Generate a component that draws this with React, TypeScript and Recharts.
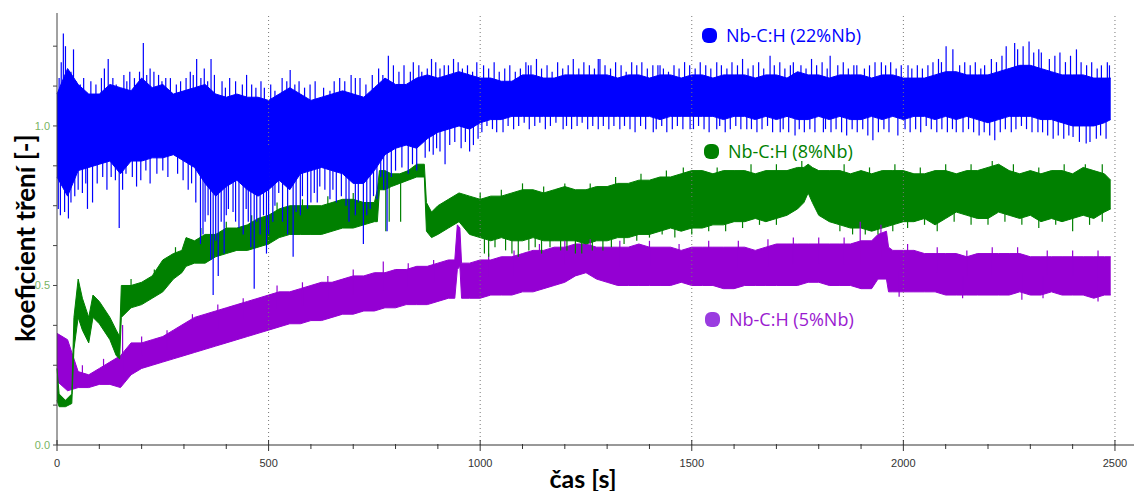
import React from 'react';
import { ComposedChart, Area, XAxis, YAxis, ReferenceLine } from 'recharts';

// ---- Nb-C:H (22%Nb): dense band (upper / lower edge) ----
const nb22T = [
  0, 25, 50, 75, 100, 125, 150, 175, 200, 225, 250, 275, 300, 325, 350, 375, 400, 425, 450, 475,
  500, 525, 550, 575, 600, 625, 650, 675, 700, 725, 750, 775, 800, 825, 850, 875, 900, 925, 950, 975,
  1000, 1025, 1050, 1075, 1100, 1125, 1150, 1175, 1200, 1225, 1250, 1275, 1300, 1325, 1350, 1375, 1400, 1425, 1450, 1475,
  1500, 1525, 1550, 1575, 1600, 1625, 1650, 1675, 1700, 1725, 1750, 1775, 1800, 1825, 1850, 1875, 1900, 1925, 1950, 1975,
  2000, 2025, 2050, 2075, 2100, 2125, 2150, 2175, 2200, 2225, 2250, 2275, 2300, 2325, 2350, 2375, 2400, 2425, 2450, 2475,
  2490,
];
const nb22Hi = [
  1.10, 1.18, 1.13, 1.10, 1.10, 1.13, 1.12, 1.11, 1.15, 1.12, 1.13, 1.10, 1.11, 1.12, 1.13, 1.10, 1.09, 1.10, 1.09, 1.09,
  1.08, 1.10, 1.12, 1.10, 1.08, 1.09, 1.10, 1.11, 1.10, 1.09, 1.12, 1.15, 1.13, 1.13, 1.15, 1.16, 1.15, 1.16, 1.17, 1.16,
  1.15, 1.15, 1.14, 1.14, 1.16, 1.16, 1.15, 1.15, 1.16, 1.16, 1.16, 1.16, 1.16, 1.15, 1.16, 1.16, 1.15, 1.16, 1.16, 1.15,
  1.16, 1.16, 1.15, 1.16, 1.16, 1.16, 1.15, 1.16, 1.16, 1.15, 1.17, 1.16, 1.16, 1.15, 1.16, 1.16, 1.16, 1.15, 1.16, 1.16,
  1.15, 1.15, 1.15, 1.16, 1.17, 1.17, 1.16, 1.16, 1.16, 1.17, 1.18, 1.19, 1.19, 1.18, 1.17, 1.16, 1.16, 1.16, 1.15, 1.15,
  1.15,
];
const nb22Lo = [
  0.84, 0.78, 0.86, 0.87, 0.88, 0.89, 0.85, 0.89, 0.89, 0.90, 0.90, 0.91, 0.89, 0.87, 0.82, 0.78, 0.81, 0.83, 0.80, 0.78,
  0.80, 0.83, 0.80, 0.85, 0.86, 0.87, 0.86, 0.85, 0.82, 0.82, 0.86, 0.91, 0.93, 0.94, 0.93, 0.96, 0.98, 0.99, 1.00, 0.99,
  1.01, 1.02, 1.02, 1.03, 1.03, 1.03, 1.03, 1.03, 1.03, 1.03, 1.03, 1.03, 1.03, 1.03, 1.03, 1.03, 1.03, 1.02, 1.03, 1.03,
  1.03, 1.03, 1.03, 1.02, 1.03, 1.03, 1.02, 1.03, 1.02, 1.03, 1.02, 1.02, 1.03, 1.02, 1.03, 1.02, 1.02, 1.03, 1.02, 1.03,
  1.02, 1.03, 1.03, 1.02, 1.03, 1.02, 1.03, 1.02, 1.01, 1.02, 1.03, 1.03, 1.03, 1.02, 1.02, 1.01, 1.00, 1.00, 1.00, 1.01,
  1.02,
];
// single noise peaks sticking out of the band: time, peak value
const nb22HairT = [
  5, 10, 15, 20, 33, 39, 45, 55, 63, 80, 92, 105, 112, 121, 132, 140, 158, 165, 172, 183, 195, 204, 212, 220, 229, 240, 248, 257, 268, 282,
  292, 305, 315, 322, 330, 340, 348, 356, 364, 372, 390, 398, 408, 422, 438, 448, 460, 470, 482, 490, 505, 515, 532, 543, 551, 562, 572, 585, 598, 610,
  630, 645, 655, 668, 680, 695, 705, 716, 730, 745, 760, 770, 783, 795, 808, 820, 835, 842, 855, 862, 875, 885, 895, 905, 915, 925, 937, 948, 958, 970,
  982, 992,
  3, 8, 18, 27, 33, 42, 50, 60, 68, 72, 84, 95, 108, 118, 128, 138, 147, 155, 163, 178, 188, 198, 210, 220, 236, 250, 262, 285, 298, 310,
  318, 328, 339, 345, 350, 357, 363, 369, 375, 381, 388, 395, 400, 405, 416, 422, 430, 440, 447, 452, 458, 466, 472, 480, 488, 495, 500, 510, 515, 524,
  533, 545, 558, 565, 575, 580, 592, 600, 608, 615, 621, 633, 645, 652, 660, 672, 683, 690, 705, 712, 724, 732, 740, 748, 756, 765, 772, 780, 790, 800,
  815, 830, 840, 850, 870, 880, 889, 897, 905, 917, 928, 940, 955, 965, 975, 984, 995,
  1008, 1020, 1033, 1045, 1058, 1070, 1083, 1095, 1108, 1114, 1120, 1133, 1145, 1158, 1170, 1183, 1195, 1208, 1220, 1233, 1245, 1258, 1270, 1279, 1283, 1295,
  1308, 1320, 1333, 1345, 1358, 1370, 1382, 1395, 1408, 1420, 1425, 1433, 1445, 1458, 1470, 1483, 1495, 1508, 1520, 1533, 1545, 1559, 1570, 1583, 1595, 1608,
  1620, 1633, 1645, 1658, 1670, 1685, 1695, 1708, 1720, 1733, 1740, 1758, 1770, 1783, 1795, 1808, 1820, 1827, 1845, 1858, 1870, 1883, 1890, 1908, 1920, 1933,
  1948, 1958, 1970, 1983, 1995, 2011, 2020, 2033, 2045, 2058, 2070, 2083, 2090, 2101, 2117, 2133, 2145, 2158, 2170, 2183, 2192, 2208, 2220, 2233, 2243, 2263,
  2270, 2283, 2297, 2308, 2320, 2326, 2345, 2358, 2370, 2383, 2395, 2409, 2420, 2433, 2445, 2458, 2468, 2482, 2487,
  1004, 1016, 1029, 1039, 1054, 1066, 1079, 1091, 1104, 1116, 1129, 1141, 1154, 1166, 1179, 1196, 1204, 1216, 1229, 1241, 1254, 1266, 1279, 1291, 1304, 1316,
  1330, 1341, 1354, 1366, 1379, 1391, 1409, 1416, 1429, 1441, 1454, 1466, 1479, 1496, 1504, 1516, 1529, 1541, 1559, 1566, 1579, 1591, 1604, 1616, 1630, 1641,
  1654, 1666, 1679, 1691, 1709, 1716, 1729, 1744, 1754, 1766, 1779, 1791, 1811, 1816, 1829, 1841, 1854, 1866, 1879, 1891, 1904, 1916, 1928, 1941, 1954, 1966,
  1987, 2004, 2016, 2029, 2041, 2054, 2066, 2079, 2091, 2104, 2116, 2125, 2141, 2154, 2166, 2179, 2191, 2204, 2216, 2229, 2241, 2255, 2266, 2279, 2291, 2304,
  2318, 2329, 2341, 2354, 2366, 2379, 2391, 2401, 2416, 2432, 2441, 2456, 2466, 2479,
];
const nb22HairV = [
  1.15, 1.20, 1.29, 1.25, 1.17, 1.24, 1.14, 1.13, 1.15, 1.14, 1.13, 1.15, 1.18, 1.21, 1.15, 1.13, 1.16, 1.14, 1.17, 1.15, 1.17, 1.26, 1.16, 1.18, 1.17, 1.16, 1.14, 1.15, 1.15, 1.13,
  1.14, 1.15, 1.17, 1.16, 1.21, 1.15, 1.18, 1.14, 1.21, 1.16, 1.14, 1.12, 1.15, 1.14, 1.13, 1.16, 1.13, 1.12, 1.14, 1.12, 1.13, 1.11, 1.15, 1.14, 1.175, 1.13, 1.14, 1.12, 1.13, 1.14,
  1.12, 1.11, 1.14, 1.15, 1.14, 1.16, 1.15, 1.15, 1.13, 1.16, 1.18, 1.16, 1.22, 1.19, 1.17, 1.19, 1.17, 1.20, 1.19, 1.17, 1.18, 1.21, 1.20, 1.18, 1.19, 1.19, 1.21, 1.20, 1.18, 1.19,
  1.17, 1.20,
  0.74, 0.72, 0.73, 0.71, 0.76, 0.78, 0.80, 0.79, 0.82, 0.74, 0.76, 0.82, 0.84, 0.80, 0.84, 0.83, 0.68, 0.80, 0.85, 0.84, 0.81, 0.83, 0.86, 0.82, 0.85, 0.86, 0.84, 0.85, 0.83, 0.80,
  0.82, 0.76, 0.63, 0.66, 0.70, 0.72, 0.58, 0.47, 0.64, 0.53, 0.70, 0.60, 0.72, 0.74, 0.73, 0.70, 0.68, 0.66, 0.74, 0.70, 0.62, 0.49, 0.70, 0.66, 0.72, 0.60, 0.66, 0.70, 0.75, 0.79,
  0.70, 0.66, 0.59, 0.73, 0.72, 0.78, 0.74, 0.76, 0.79, 0.76, 0.81, 0.80, 0.77, 0.80, 0.76, 0.78, 0.75, 0.70, 0.72, 0.76, 0.63, 0.72, 0.74, 0.78, 0.77, 0.84, 0.80, 0.67, 0.84, 0.86,
  0.87, 0.85, 0.88, 0.86, 0.90, 0.92, 0.91, 0.93, 0.92, 0.88, 0.94, 0.95, 0.93, 0.95, 0.92, 0.94, 0.96,
  1.19, 1.18, 1.20, 1.17, 1.18, 1.19, 1.17, 1.18, 1.20, 1.19, 1.19, 1.21, 1.18, 1.19, 1.17, 1.20, 1.18, 1.19, 1.21, 1.18, 1.20, 1.19, 1.18, 1.21, 1.21, 1.19,
  1.18, 1.20, 1.19, 1.17, 1.20, 1.19, 1.20, 1.18, 1.19, 1.19, 1.19, 1.18, 1.17, 1.19, 1.18, 1.20, 1.19, 1.18, 1.20, 1.19, 1.18, 1.20, 1.19, 1.18, 1.20, 1.19,
  1.21, 1.18, 1.19, 1.20, 1.18, 1.22, 1.19, 1.20, 1.18, 1.19, 1.20, 1.19, 1.18, 1.21, 1.19, 1.20, 1.18, 1.22, 1.19, 1.20, 1.18, 1.19, 1.19, 1.18, 1.19, 1.20,
  1.20, 1.19, 1.20, 1.18, 1.19, 1.19, 1.18, 1.19, 1.18, 1.19, 1.20, 1.21, 1.20, 1.25, 1.24, 1.19, 1.20, 1.19, 1.20, 1.18, 1.19, 1.21, 1.20, 1.22, 1.25, 1.26,
  1.24, 1.25, 1.265, 1.23, 1.24, 1.23, 1.21, 1.22, 1.23, 1.20, 1.22, 1.24, 1.20, 1.19, 1.20, 1.18, 1.19, 1.20, 1.19,
  0.98, 1.00, 0.99, 0.98, 0.98, 1.00, 0.99, 1.00, 1.01, 0.99, 1.00, 1.01, 0.99, 1.00, 1.01, 0.99, 1.00, 0.99, 1.00, 1.01, 0.99, 1.00, 0.99, 1.00, 0.99, 1.00,
  0.99, 1.00, 0.99, 0.98, 1.00, 0.99, 0.98, 0.99, 1.00, 0.98, 0.99, 1.00, 0.99, 0.99, 0.99, 1.00, 0.99, 0.98, 0.99, 1.00, 0.98, 0.99, 1.00, 0.99, 0.99, 0.99,
  0.98, 0.99, 1.00, 0.98, 0.98, 0.99, 0.98, 0.97, 0.99, 0.98, 0.99, 0.98, 0.98, 0.99, 0.98, 0.99, 0.98, 0.97, 0.99, 0.98, 0.99, 0.97, 0.955, 0.98, 0.99, 0.98,
  0.97, 0.99, 0.98, 0.99, 0.98, 1.00, 0.99, 0.98, 0.99, 0.98, 0.99, 0.98, 0.98, 0.99, 0.98, 0.97, 0.98, 0.97, 0.955, 0.98, 0.99, 0.98, 0.99, 1.00, 0.99, 0.98,
  0.98, 0.98, 0.97, 0.96, 0.97, 0.96, 0.97, 0.965, 0.95, 0.945, 0.95, 0.96, 0.97, 0.96,
];

// ---- Nb-C:H (8%Nb) ----
const nb8T = [
  0, 5, 20, 35, 40, 50, 60, 75, 85, 100, 125, 140, 148, 152,
  175, 200, 225, 250, 275, 295, 305, 325, 350, 375, 400, 425, 450, 475, 500, 525, 550, 575, 600, 625, 650, 675, 700, 725, 750,
  757, 762, 775, 790, 810, 830, 850, 868, 873, 885, 900, 925, 950, 975, 1000,
  1025, 1050, 1075, 1100, 1125, 1150, 1175, 1200, 1225, 1250, 1275, 1300, 1325, 1350, 1375, 1400, 1425, 1450, 1475, 1500,
  1525, 1550, 1575, 1600, 1625, 1650, 1675, 1700, 1725, 1750,
  1765, 1775, 1785, 1800,
  1825, 1850, 1875, 1900, 1925, 1950, 1975, 2000, 2025, 2050, 2075, 2100, 2125, 2150, 2175, 2200, 2225, 2250, 2275, 2300,
  2325, 2350, 2375, 2400, 2425, 2450, 2475, 2490,
];
const nb8Hi = [
  0.24, 0.16, 0.14, 0.16, 0.40, 0.52, 0.46, 0.40, 0.47, 0.45, 0.40, 0.36, 0.34, 0.50,
  0.50, 0.51, 0.53, 0.58, 0.60, 0.61, 0.65, 0.64, 0.66, 0.66, 0.68, 0.68, 0.69, 0.71, 0.72, 0.74, 0.75, 0.75, 0.75, 0.75, 0.76, 0.77, 0.77, 0.76, 0.76,
  0.80, 0.86, 0.86, 0.85, 0.85, 0.86, 0.88, 0.88, 0.76, 0.73, 0.75, 0.77, 0.79, 0.78, 0.77,
  0.78, 0.78, 0.79, 0.80, 0.80, 0.79, 0.80, 0.81, 0.80, 0.80, 0.81, 0.81, 0.82, 0.82, 0.83, 0.83, 0.84, 0.84, 0.85, 0.86,
  0.86, 0.85, 0.86, 0.86, 0.86, 0.85, 0.86, 0.86, 0.86, 0.87,
  0.87, 0.88, 0.87, 0.86,
  0.86, 0.86, 0.85, 0.86, 0.85, 0.86, 0.86, 0.86, 0.85, 0.85, 0.86, 0.86, 0.85, 0.86, 0.86, 0.87, 0.88, 0.86, 0.85, 0.86,
  0.85, 0.86, 0.86, 0.85, 0.87, 0.86, 0.85, 0.83,
];
const nb8Lo = [
  0.14, 0.12, 0.12, 0.13, 0.30, 0.40, 0.36, 0.32, 0.40, 0.38, 0.33, 0.28, 0.27, 0.40,
  0.43, 0.44, 0.46, 0.48, 0.52, 0.54, 0.56, 0.57, 0.57, 0.59, 0.60, 0.61, 0.61, 0.62, 0.63, 0.65, 0.66, 0.66, 0.66, 0.66, 0.67, 0.68, 0.68, 0.69, 0.70,
  0.70, 0.80, 0.80, 0.81, 0.82, 0.83, 0.84, 0.84, 0.67, 0.65, 0.66, 0.68, 0.70, 0.66, 0.65,
  0.64, 0.65, 0.64, 0.64, 0.65, 0.64, 0.64, 0.64, 0.64, 0.63, 0.64, 0.64, 0.65, 0.65, 0.66, 0.66, 0.67, 0.68, 0.67, 0.68,
  0.68, 0.69, 0.69, 0.70, 0.70, 0.71, 0.70, 0.71, 0.72, 0.74,
  0.76, 0.79, 0.76, 0.72,
  0.70, 0.69, 0.68, 0.68, 0.67, 0.68, 0.69, 0.70, 0.70, 0.71, 0.69, 0.71, 0.73, 0.72, 0.71, 0.71, 0.73, 0.72, 0.71, 0.72,
  0.70, 0.71, 0.70, 0.71, 0.72, 0.71, 0.73, 0.74,
];
const nb8HairT = [
  777, 785, 812, 1010, 1020, 1035, 1060, 1075, 1090, 1115, 1130, 1145, 1165, 1190, 1205, 1225, 1240, 1265, 1290, 1310,
  1340, 1370, 1400, 1430, 1460, 1500, 1540, 1580, 1620, 1660, 1700, 1850, 1880, 1910, 1940, 1975, 2010, 2050, 2080, 2120,
  2160, 2200, 2240, 2280, 2320, 2360, 2400, 2440, 2470,
  175, 230, 280, 340, 400, 460, 520, 580, 640,
  700, 1000, 1050, 1100, 1150, 1200, 1260, 1320, 1380, 1440, 1480, 1560, 1640, 1700, 1760, 1860, 1920, 1980, 2040, 2100,
  2160, 2210, 2260, 2320, 2380, 2430, 2470,
];
const nb8HairV = [
  0.67, 0.70, 0.70, 0.60, 0.59, 0.62, 0.61, 0.60, 0.59, 0.61, 0.62, 0.60, 0.62, 0.61, 0.61, 0.60, 0.60, 0.61, 0.61, 0.62,
  0.63, 0.64, 0.65, 0.66, 0.65, 0.66, 0.67, 0.67, 0.68, 0.69, 0.69, 0.67, 0.66, 0.66, 0.66, 0.67, 0.68, 0.69, 0.67, 0.70,
  0.69, 0.69, 0.70, 0.69, 0.68, 0.69, 0.67, 0.69, 0.70,
  0.52, 0.55, 0.62, 0.68, 0.70, 0.72, 0.76, 0.77, 0.78,
  0.79, 0.79, 0.80, 0.82, 0.81, 0.82, 0.82, 0.84, 0.85, 0.86, 0.87, 0.87, 0.88, 0.88, 0.89, 0.88, 0.87, 0.88, 0.87, 0.88,
  0.88, 0.89, 0.88, 0.87, 0.88, 0.88, 0.88,
];

// ---- Nb-C:H (5%Nb) ----
const nb5T = [
  0, 25, 50, 75, 100, 125, 150, 175, 200, 225, 250, 275, 300, 325, 350, 375, 400, 425, 450, 475,
  500, 525, 550, 575, 600, 625, 650, 675, 700, 725, 750, 775, 800, 825, 850, 875, 900, 925,
  940, 946, 952, 956,
  975, 1000, 1025, 1050, 1075, 1100, 1125, 1150, 1175, 1200, 1225, 1250, 1275, 1300, 1325, 1350, 1375, 1400, 1425, 1450,
  1475, 1500, 1525, 1550, 1575, 1600, 1625, 1650, 1675, 1700, 1725, 1750, 1775, 1800, 1825, 1850, 1875,
  1900, 1925, 1940, 1960, 1965,
  1975, 2000, 2025, 2050, 2075, 2100, 2125, 2150, 2175, 2200, 2225, 2250, 2275, 2300, 2325, 2350, 2375, 2400, 2425, 2450,
  2475, 2490,
];
const nb5Hi = [
  0.35, 0.33, 0.23, 0.22, 0.24, 0.26, 0.28, 0.32, 0.32, 0.33, 0.34, 0.36, 0.38, 0.40, 0.41, 0.42, 0.43, 0.44, 0.45, 0.46,
  0.47, 0.48, 0.48, 0.49, 0.50, 0.51, 0.51, 0.52, 0.53, 0.53, 0.54, 0.54, 0.55, 0.55, 0.56, 0.56, 0.57, 0.58,
  0.58, 0.69, 0.68, 0.57,
  0.57, 0.58, 0.58, 0.59, 0.59, 0.60, 0.61, 0.61, 0.62, 0.62, 0.63, 0.63, 0.62, 0.62, 0.62, 0.62, 0.63, 0.62, 0.62, 0.62,
  0.61, 0.62, 0.62, 0.62, 0.62, 0.62, 0.62, 0.61, 0.62, 0.63, 0.63, 0.63, 0.63, 0.63, 0.63, 0.63, 0.63,
  0.64, 0.64, 0.66, 0.67, 0.62,
  0.61, 0.61, 0.61, 0.60, 0.60, 0.60, 0.60, 0.59, 0.60, 0.60, 0.60, 0.60, 0.60, 0.59, 0.59, 0.59, 0.59, 0.59, 0.59, 0.59,
  0.59, 0.59,
];
const nb5Lo = [
  0.20, 0.17, 0.18, 0.18, 0.19, 0.19, 0.18, 0.22, 0.24, 0.25, 0.26, 0.27, 0.28, 0.29, 0.30, 0.31, 0.32, 0.33, 0.34, 0.35,
  0.36, 0.37, 0.38, 0.38, 0.39, 0.39, 0.40, 0.41, 0.41, 0.42, 0.42, 0.43, 0.43, 0.44, 0.44, 0.44, 0.45, 0.46,
  0.46, 0.55, 0.56, 0.46,
  0.46, 0.46, 0.47, 0.47, 0.47, 0.48, 0.48, 0.49, 0.50, 0.51, 0.53, 0.54, 0.52, 0.51, 0.50, 0.50, 0.50, 0.50, 0.50, 0.50,
  0.51, 0.50, 0.50, 0.50, 0.49, 0.49, 0.50, 0.50, 0.50, 0.50, 0.50, 0.50, 0.51, 0.51, 0.50, 0.50, 0.50,
  0.49, 0.49, 0.52, 0.52, 0.48,
  0.48, 0.48, 0.48, 0.48, 0.48, 0.47, 0.47, 0.47, 0.47, 0.47, 0.47, 0.47, 0.48, 0.47, 0.47, 0.48, 0.47, 0.47, 0.47, 0.46,
  0.47, 0.47,
];
const nb5HairT = [
  155, 1898, 1947,
  60, 110, 200, 260, 320, 380, 440, 520, 580, 640, 700, 771, 830, 890, 1020, 1080, 1140, 1200, 1260, 1330,
  1400, 1470, 1540, 1610, 1680, 1740, 1800, 1860, 2010, 2080, 2150, 2210, 2270, 2340, 2400, 2460,
  1990, 2140, 2280, 2330, 2460,
];
const nb5HairV = [
  0.376, 0.70, 0.69,
  0.25, 0.27, 0.34, 0.36, 0.41, 0.44, 0.46, 0.50, 0.51, 0.53, 0.55, 0.575, 0.57, 0.58, 0.60, 0.61, 0.63, 0.64, 0.645, 0.64,
  0.64, 0.63, 0.64, 0.64, 0.645, 0.65, 0.65, 0.65, 0.63, 0.62, 0.61, 0.62, 0.62, 0.61, 0.61, 0.61,
  0.465, 0.46, 0.455, 0.46, 0.45,
];

const xTicks = [0, 100, 200, 300, 400, 500, 600, 700, 800, 900, 1000, 1100, 1200, 1300, 1400, 1500, 1600, 1700, 1800, 1900, 2000, 2100, 2200, 2300, 2400, 2500];
const xMajor = [0, 500, 1000, 1500, 2000, 2500];
const yTicks = [0, 0.125, 0.25, 0.375, 0.5, 0.625, 0.75, 0.875, 1.0, 1.125, 1.25];
const yMajor = [0, 0.5, 1.0];

const band = (ts: number[], lo: number[], hi: number[]) => ts.map((t, i) => ({ t, v: [lo[i], hi[i]] }));

// each hair starts inside the band (mid of the nearest sample) and ends at its peak
const hairs = (ts: number[], lo: number[], hi: number[], ht: number[], hv: number[]) =>
  ht.map((t, i) => {
    let k = 0;
    ts.forEach((s, j) => {
      if (Math.abs(s - t) < Math.abs(ts[k] - t)) k = j;
    });
    return { t, from: (lo[k] + hi[k]) / 2, to: hv[i] };
  });

const series = [
  { key: 'nb5', color: '#9400d3', data: band(nb5T, nb5Lo, nb5Hi), hairs: hairs(nb5T, nb5Lo, nb5Hi, nb5HairT, nb5HairV) },
  { key: 'nb8', color: '#008000', data: band(nb8T, nb8Lo, nb8Hi), hairs: hairs(nb8T, nb8Lo, nb8Hi, nb8HairT, nb8HairV) },
  { key: 'nb22', color: '#0000ff', data: band(nb22T, nb22Lo, nb22Hi), hairs: hairs(nb22T, nb22Lo, nb22Hi, nb22HairT, nb22HairV) },
];

const XTick = (props: any) => {
  const { x, y, payload } = props;
  const major = xMajor.includes(payload.value);
  return (
    <g>
      <line x1={x} x2={x} y1={major ? y - 5 : y - 1} y2={y + (major ? 6 : 4)} stroke="#333" strokeWidth={1} />
      {major && (
        <text x={x} y={y + 22} textAnchor="middle" fontSize={11} fill="#333" fontFamily="Liberation Sans, Arial, sans-serif">
          {payload.value}
        </text>
      )}
    </g>
  );
};

const YTick = (props: any) => {
  const { x, y, payload } = props;
  const major = yMajor.includes(payload.value);
  return (
    <g>
      <line x1={x - 4} x2={x} y1={y} y2={y} stroke="#444" strokeWidth={1} />
      {major && (
        <text x={x - 7} y={y + 4} textAnchor="end" fontSize={11} fill="#78b462" fontFamily="Liberation Sans, Arial, sans-serif">
          {payload.value.toFixed(1)}
        </text>
      )}
    </g>
  );
};

const legendItems = [
  { name: 'Nb-C:H (22%Nb)', color: '#0000ff', dot: '#0000ff', left: 702, top: 35 },
  { name: 'Nb-C:H (8%Nb)', color: '#008000', dot: '#008000', left: 704, top: 151 },
  { name: 'Nb-C:H (5%Nb)', color: '#9a1ad0', dot: '#9a3ce0', left: 705, top: 319 },
];

export default function App() {
  return (
    <div style={{ position: 'absolute', left: 0, top: 0, width: 1138, height: 491, background: '#fff', fontFamily: 'Lato, sans-serif' }}>
      <ComposedChart width={1138} height={491} margin={{ top: 13, right: 4, left: 0, bottom: 0 }}>
        <XAxis
          dataKey="t"
          type="number"
          domain={[0, 2545]}
          ticks={xTicks}
          interval={0}
          height={46}
          tickSize={0}
          tickMargin={0}
          tickLine={false}
          axisLine={{ stroke: '#333' }}
          tick={<XTick />}
          allowDuplicatedCategory={false}
        />
        <YAxis
          type="number"
          domain={[0, 1.354]}
          ticks={yTicks}
          interval={0}
          width={57}
          tickSize={0}
          tickMargin={0}
          tickLine={false}
          axisLine={{ stroke: '#444' }}
          tick={<YTick />}
        />
        {xMajor.slice(1).map((v) => (
          <ReferenceLine key={v} x={v} stroke="#777" strokeDasharray="1 3" />
        ))}
        {series.map((s) => [
          <Area
            key={s.key}
            data={s.data}
            type="linear"
            dataKey="v"
            stroke={s.color}
            strokeWidth={1}
            fill={s.color}
            fillOpacity={1}
            isAnimationActive={false}
            dot={false}
            activeDot={false}
          />,
          ...s.hairs.map((h, i) => (
            <ReferenceLine
              key={`${s.key}-h-${i}`}
              segment={[{ x: h.t, y: h.from }, { x: h.t, y: h.to }]}
              stroke={s.color}
              strokeWidth={1.2}
            />
          )),
        ])}
      </ComposedChart>

      <div style={{ position: 'absolute', left: 25, top: 238, transform: 'translate(-50%, -50%) rotate(-90deg)', whiteSpace: 'nowrap', fontSize: 26, fontWeight: 700, color: '#000' }}>
        koeficient tření [-]
      </div>
      <div style={{ position: 'absolute', left: 583, top: 478, transform: 'translate(-50%, -50%)', whiteSpace: 'nowrap', fontSize: 25, fontWeight: 700, color: '#000' }}>
        čas [s]
      </div>

      {legendItems.map((it) => (
        <div key={it.name} style={{ position: 'absolute', left: it.left, top: it.top, transform: 'translateY(-50%)', display: 'flex', alignItems: 'center', whiteSpace: 'nowrap', fontFamily: '"Open Sans", sans-serif', fontSize: 18, color: it.color }}>
          <span style={{ display: 'inline-block', width: 15, height: 15, borderRadius: 6, background: it.dot, marginRight: 9 }} />
          {it.name}
        </div>
      ))}
    </div>
  );
}
